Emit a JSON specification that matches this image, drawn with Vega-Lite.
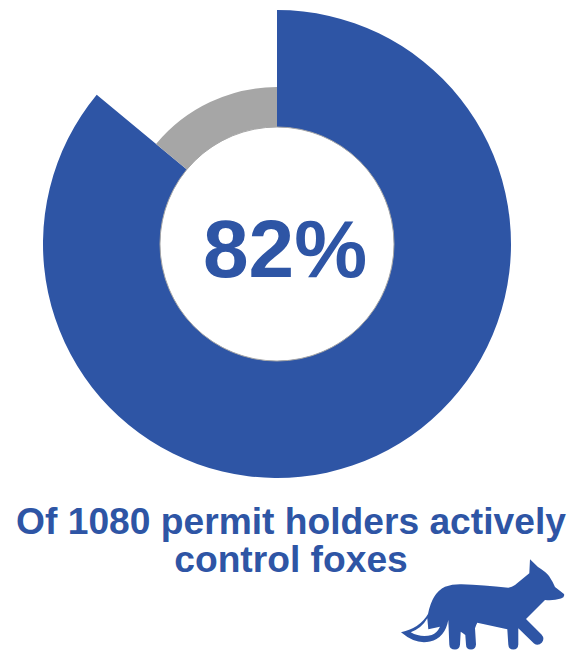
{
"$schema":"https://vega.github.io/schema/vega-lite/v6.json",
"width":570,"height":651,"padding":0,"autosize":{"type":"none"},
"background":"white",
"config":{"view":{"stroke":null}},
"layer":[
{"data":{"values":[{"label":"Actively control foxes","from":0,"to":86,"ring":234},{"label":"Do not","from":86,"to":100,"ring":157}]},
"mark":{"type":"arc","x":277,"y":244,"radius2":117},
"encoding":{
"theta":{"field":"from","type":"quantitative","stack":false,"scale":{"domain":[0,100],"range":[0,6.2832]}},
"theta2":{"field":"to"},
"radius":{"field":"ring","type":"quantitative","scale":{"type":"linear","domain":[0,234],"range":[0,234]}},
"color":{"field":"label","type":"nominal","legend":null,"scale":{"domain":["Actively control foxes","Do not"],"range":["#2E55A5","#A6A6A6"]}}
}},
{"data":{"values":[{"t":"hole"}]},
"mark":{"type":"point","x":277,"y":244,"size":54756,"shape":"circle","filled":false,"stroke":"#A6A6A6","strokeWidth":1,"opacity":1},"encoding":{}},
{"data":{"values":[{"t":"82%"}]},
"mark":{"type":"text","x":285,"y":277,"align":"center","baseline":"alphabetic","font":"Liberation Sans","fontWeight":"bold","fontSize":82,"color":"#2E55A5"},
"encoding":{"text":{"field":"t"}}},
{"data":{"values":[{"t":"Of 1080 permit holders actively","line":1}]},
"mark":{"type":"text","x":291,"y":534,"align":"center","baseline":"alphabetic","font":"Liberation Sans","fontWeight":"bold","fontSize":37.2,"color":"#2E55A5"},
"encoding":{"text":{"field":"t"}}},
{"data":{"values":[{"t":"control foxes","line":2}]},
"mark":{"type":"text","x":291,"y":572,"align":"center","baseline":"alphabetic","font":"Liberation Sans","fontWeight":"bold","fontSize":37.2,"color":"#2E55A5"},
"encoding":{"text":{"field":"t"}}},
{"data":{"values":[{"t":"fox"}]},
"mark":{"type":"point","x":483,"y":600,"size":4,"filled":true,"opacity":1,"color":"#2E55A5","shape":"M47,-40.7L55,-33Q63,-28 66,-24Q70,-18 72,-13L81,-6Q82,-3 78,-1.5Q70,1 62,0L43,19L58.5,34.5Q62,38.5 59,42.5Q55,46.5 51,43.5L35.3,28.3L35.3,44.5Q35,49.5 30.3,49.5Q25.5,49.5 25.3,44.5L24.3,29.3L-5.7,22.7Q-7,25 -8,28.3L-7,44.5Q-7.5,49.5 -12,49.5Q-17,49.5 -17,44.5L-17.7,35Q-20,33 -22.3,31.7L-23,44.5Q-23.5,49.5 -28,49.5Q-33.5,49.5 -33.7,44.5L-34.7,20Q-38,38 -53,41.5Q-67,45 -82,32.3Q-63,28 -55,14Q-51,-7 -38,-13.3Q-30,-16 -21.3,-15.7Q0,-15 25.3,-12.3Q29,-13 32,-15L46.3,-26.7ZM-72.3,32.3Q-62,38 -51.3,35Q-46,33 -43,26.7L-54.7,29.3L-55.7,18.3Q-61,28 -72.3,32.3Z"},
"encoding":{}}
]
}
